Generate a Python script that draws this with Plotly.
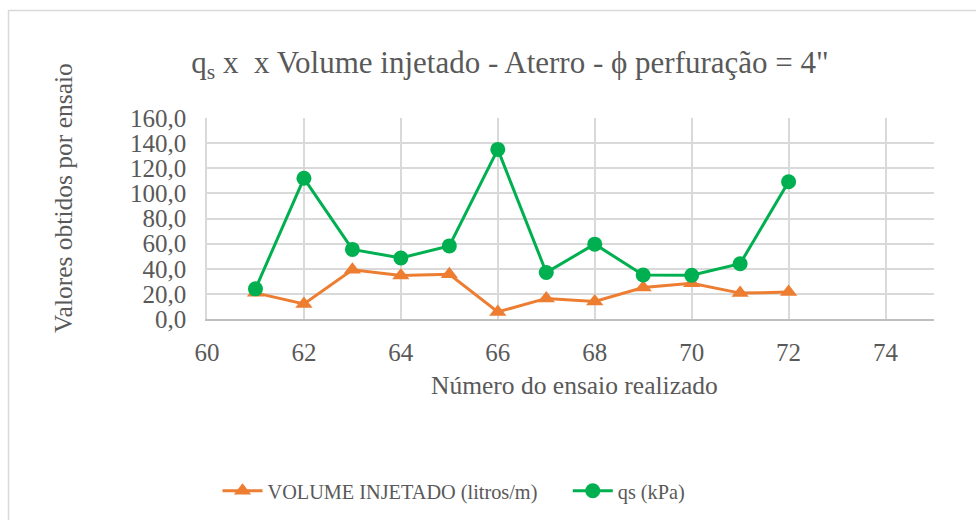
import plotly.graph_objects as go

ensaio = [61, 62, 63, 64, 65, 66, 67, 68, 69, 70, 71, 72]
volume = [20.8, 12.0, 39.2, 34.6, 35.6, 5.6, 16.4, 14.0, 25.0, 28.4, 20.6, 21.4]
qs = [24.0, 112.0, 55.4, 48.6, 58.2, 135.0, 37.0, 59.6, 35.0, 34.8, 44.0, 109.2]

W, H = 976, 520
L, R, T, B = 207, 934, 118, 319
FONT = "Liberation Serif"
GRAY = "#595959"

def px(x):
    return (x - L) / (R - L)

def py(y):
    return (B - y) / (B - T)

fig = go.Figure()
fig.add_trace(go.Scatter(
    x=ensaio, y=volume, name="VOLUME INJETADO (litros/m)" + "\u00a0" * 5, mode="lines+markers",
    line=dict(color="#ED7D31", width=3),
    marker=dict(symbol="triangle-up", size=15, color="#ED7D31"),
))
fig.add_trace(go.Scatter(
    x=ensaio, y=qs, name="qs (kPa)", mode="lines+markers",
    line=dict(color="#00B050", width=3),
    marker=dict(symbol="circle", size=15, color="#00B050"),
))

tickfont = dict(size=25, color=GRAY, family=FONT)

fig.update_layout(
    width=W, height=H,
    margin=dict(l=L, r=W - R, t=T, b=H - B, autoexpand=False),
    paper_bgcolor="white", plot_bgcolor="white",
    separators=",.",
    font=dict(family=FONT, color=GRAY, size=22),
    showlegend=True,
    legend=dict(
        orientation="h", xref="container", yref="container",
        x=454 / W, y=1 - 491 / H, xanchor="center", yanchor="middle",
        font=dict(size=20.3, color=GRAY, family=FONT),
        bgcolor="rgba(0,0,0,0)", itemwidth=40,
    ),
    title=dict(
        text="q<sub>s</sub> x\u00a0\u00a0x Volume injetado - Aterro - \u03d5 perfuração = 4\"",
        xref="container", yref="container",
        x=510 / W, y=1 - 62 / H, xanchor="center", yanchor="middle",
        font=dict(size=31, color=GRAY, family=FONT),
    ),
    xaxis=dict(
        range=[60, 75], tick0=60, dtick=2, showgrid=True,
        gridcolor="#D9D9D9", gridwidth=1.5, zeroline=False,
        showline=True, linecolor="#BFBFBF", linewidth=1.5,
        ticks="", tickfont=tickfont, ticklabelstandoff=10,
    ),
    yaxis=dict(
        range=[0, 160], tick0=0, dtick=20, tickformat=".1f", showgrid=True,
        gridcolor="#D9D9D9", gridwidth=1.5, zeroline=False,
        showline=True, linecolor="#D9D9D9", linewidth=1.5,
        ticks="", tickfont=tickfont, ticklabelstandoff=14,
    ),
    annotations=[
        dict(text="Número do ensaio realizado", xref="paper", yref="paper",
             x=px(574), y=py(385), xanchor="center", yanchor="middle",
             showarrow=False, font=dict(size=25.5, color=GRAY, family=FONT)),
        dict(text="Valores obtidos por ensaio", xref="paper", yref="paper",
             x=px(63), y=py(198), xanchor="center", yanchor="middle",
             textangle=-90, showarrow=False,
             font=dict(size=25.5, color=GRAY, family=FONT)),
    ],
    shapes=[
        dict(type="rect", xref="paper", yref="paper",
             x0=px(8.5), x1=px(990), y0=py(530), y1=py(10.5),
             line=dict(color="#D9D9D9", width=1.5), fillcolor="rgba(0,0,0,0)",
             layer="below"),
    ],
)

fig.write_html("out.html", config={"displayModeBar": False},
               post_script="document.body.style.margin='0';")
